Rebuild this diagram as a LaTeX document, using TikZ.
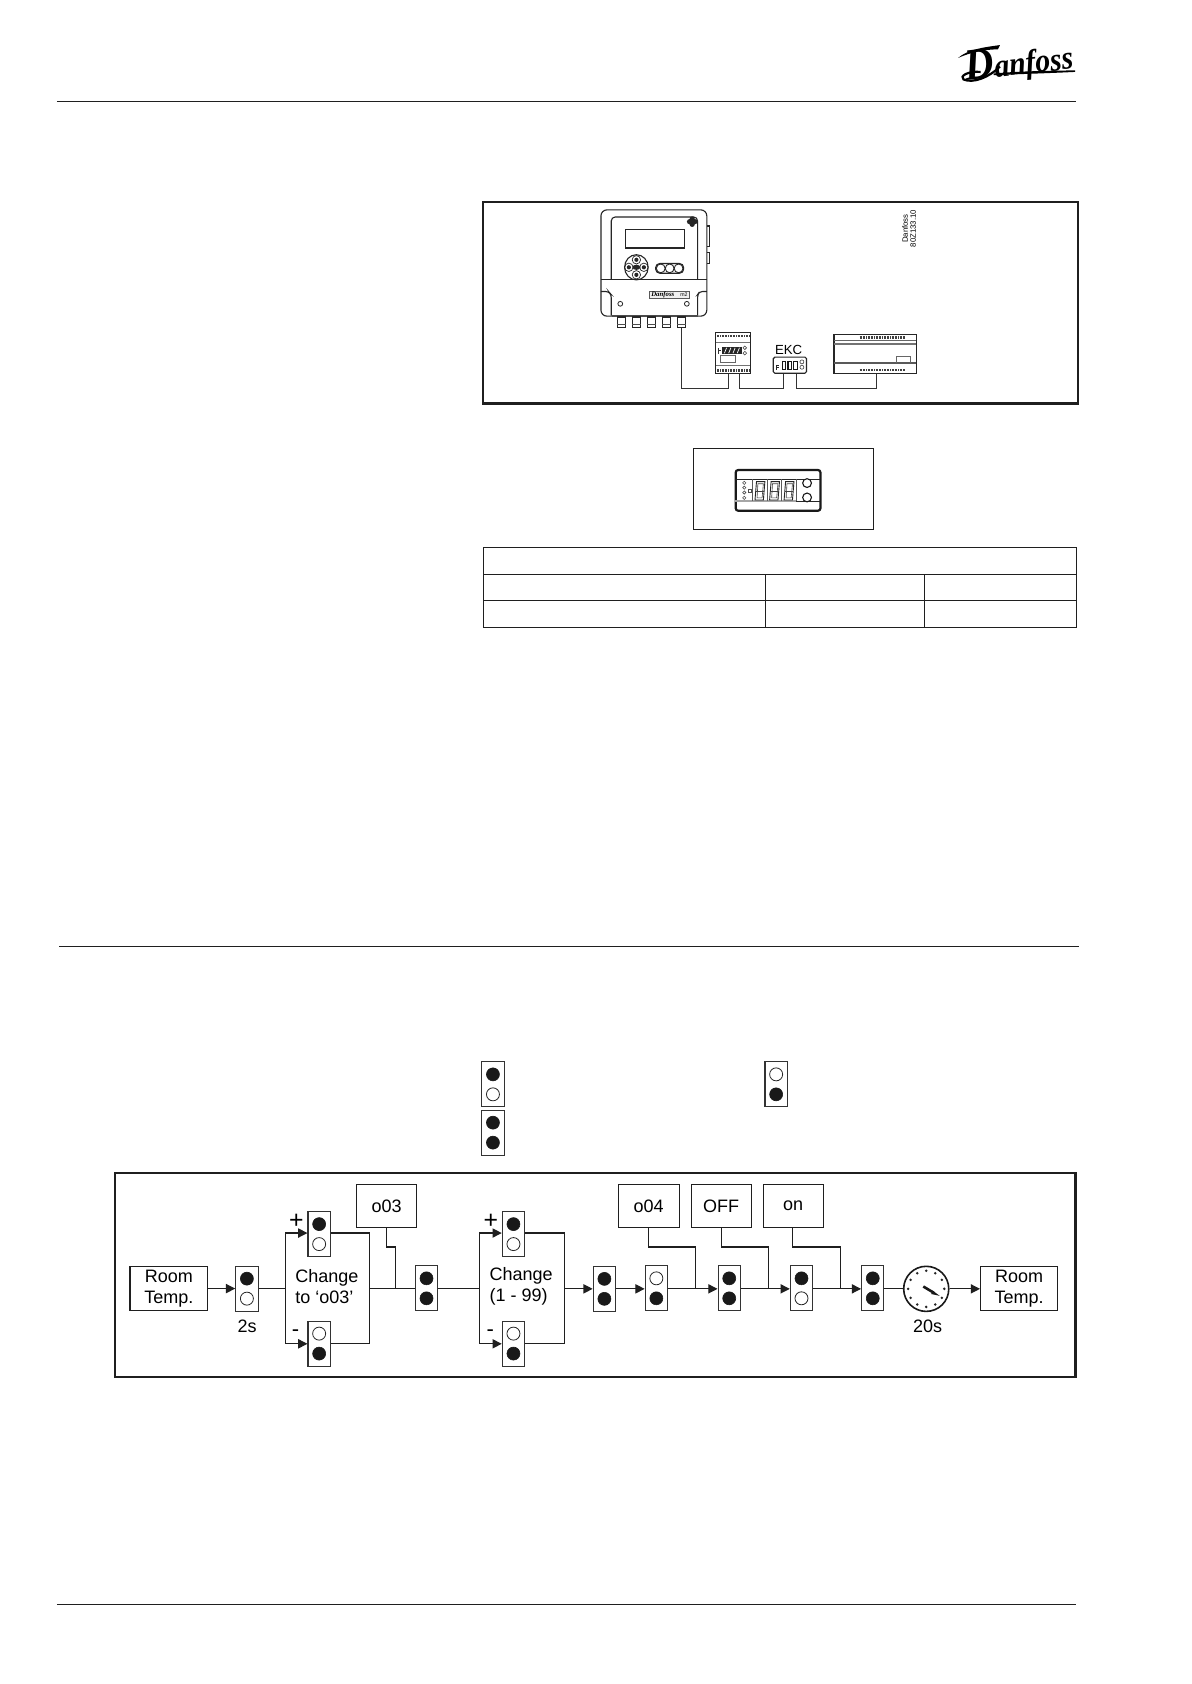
\documentclass[tikz,border=0pt]{standalone}
\usepackage{fontspec}
\setmainfont{Liberation Sans}
\newfontfamily\logofont{Liberation Serif}
\usetikzlibrary{arrows.meta,calc}
\newcommand{\uu}{0.53675pt}
\tikzset{
  thinline/.style={line width=0.5pt,draw=black!88},
  frame/.style={line width=1.15pt,draw=black!88},
  wire/.style={line width=0.5pt,draw=black!80},
  flow/.style={line width=0.55pt,draw=black!88},
  flowarrow/.style={flow,-{Triangle[length=4.6pt,width=4.6pt]}},
  flowbox/.style={draw=black!88,line width=0.55pt,inner sep=0pt,align=center,font=\fontsize{9}{10.4}\selectfont},
  lampbody/.style={draw=black!80,line width=0.55pt,inner sep=0pt,minimum width=20.8*\uu,minimum height=42*\uu},
  lampon/.style={fill=black!90,draw=black!90,line width=0.3pt},
  lampoff/.style={fill=white,draw=black!85,line width=0.4pt},
  flowlabel/.style={inner sep=0pt,font=\fontsize{9}{10.4}\selectfont},
  flowtext/.style={inner sep=0pt,anchor=west,align=left,font=\fontsize{9}{10.4}\selectfont},
  plussign/.style={inner sep=0pt,font=\fontsize{12.4}{12.4}\selectfont},
  minussign/.style={inner sep=0pt,font=\fontsize{11}{11}\selectfont},
  devline/.style={line width=0.55pt,draw=black!85},
  hatchstrip/.style={line width=1.2pt,draw=black!75,dash pattern=on 0.45pt off 0.35pt},
}
% \boxat{name}{x1}{y1}{x2}{y2}{text}
\newcommand{\boxat}[6]{\node[flowbox,minimum width={(#4-#2)*\uu},minimum height={(#5-#3)*\uu}] (#1) at ({(#2+#4)/2},{(#3+#5)/2}) {#6};}
% \lamp{name}{cx}{cy}{top style}{bottom style}
\newcommand{\lamp}[5]{%
  \node[lampbody] (#1) at (#2,#3) {};
  \path[#4] (#2,#3-9.3) circle (3.25pt);
  \path[#5] (#2,#3+9.3) circle (3.25pt);
}
% \sevenseg{cx}{top}{bottom}{halfwidth}
\newcommand{\sevenseg}[4]{%
  \draw[line width=0.45pt,draw=black!85] (#1-#4,#3) -- (#1-#4+1.4,#2) -- (#1+#4+1.4,#2) -- (#1+#4,#3) -- cycle;
  \draw[line width=0.3pt,draw=black!75] (#1-#4+1.9,#3-2) -- (#1-#4+2.7,#2+2) -- (#1+#4,#2+2) -- (#1+#4-1.2,#3-2) -- cycle;
  \draw[line width=0.3pt,draw=black!75] (#1-#4+0.7,{(#2+#3)/2}) -- (#1+#4+0.7,{(#2+#3)/2});
}
\begin{document}
\begin{tikzpicture}[x=\uu,y=-\uu]
\useasboundingbox (0,0) rectangle (1109.5,1568.7);
\fill[white] (0,0) rectangle (1109.5,1568.7);
% page rules
\coordinate (ruleAa) at (53,95);\coordinate (ruleAb) at (1002,95);
\coordinate (ruleBa) at (55,881.5);\coordinate (ruleBb) at (1005,881.5);
\coordinate (ruleCa) at (53,1494.5);\coordinate (ruleCb) at (1002,1494.5);
\draw[thinline] (ruleAa) -- (ruleAb);
\draw[thinline] (ruleBa) -- (ruleBb);
\draw[thinline] (ruleCa) -- (ruleCb);
% logo
\begin{scope}[shift={(1.5,0)}]
\node[inner sep=0pt,rotate=6,yscale=1.12,transform shape,font=\logofont\bfseries\itshape] (logo) at (948,59) {\fontsize{20}{20}\selectfont D\fontsize{14.8}{14.8}\selectfont anfoss};
\fill[black] (891,54) .. controls (900,46) and (915,44) .. (930,42) -- (928,46) .. controls (915,46) and (902,49) .. (891,54) -- cycle;
\fill[black] (924,68.5) .. controls (950,66) and (980,66) .. (1000,65.5) -- (1000,67) .. controls (980,68) and (950,69) .. (924,70) -- cycle;
\draw[line width=1.1pt,draw=black] (930,62) .. controls (920,72) and (905,78) .. (896,74) .. controls (892,71) and (900,66) .. (912,67);
\end{scope}
% top frame
\node[frame,minimum width={554*\uu},minimum height={188*\uu},inner sep=0pt] (topframe) at (727,282) {};
\begin{scope}[shift={(0.8,0.5)}]
% controller device
\draw[devline,rounded corners=3pt] (559,195) rectangle (657.6,294);
\draw[devline,rounded corners=2pt] (568.6,260) -- (568.6,201.6) -- (649,201.6) -- (649,260);
\draw[devline] (559,260) -- (657.6,260);
\draw[devline] (581.5,213) rectangle (637,230.5);
\draw[devline] (657.6,210) -- (660,210) -- (660,229) -- (657.6,229);
\draw[devline] (657.6,235) -- (660,235) -- (660,245) -- (657.6,245);
\fill[black!85] (644,203.5) circle (1.3pt) (644,208.5) circle (1.3pt) (641.5,206) circle (1.3pt) (646.5,206) circle (1.3pt);
% keypad
\draw[devline] (592,248.5) ellipse (5.9pt and 6.3pt);
\foreach \dx/\dy in {0/-7,0/7,-7/0,7/0}{\draw[line width=0.35pt,draw=black!85] (592+\dx,248.5+\dy) circle (2.1pt);\fill[black!85] (592+\dx,248.5+\dy) circle (1.05pt);}
\fill[black!85] (592,248.5) ellipse (2pt and 1.3pt);
% three soft keys
\draw[devline,rounded corners=2pt] (610,245) rectangle (636,254);
\foreach \cx in {614.7,623,631.3}{\draw[line width=0.45pt,draw=black!85] (\cx,249.5) circle (2.2pt);}
% lower housing
\draw[devline,rounded corners=1.5pt] (559,271) -- (566,271) -- (568.6,274) -- (568.6,293.5);
\draw[devline,rounded corners=1.5pt] (657.6,271) -- (651,271) -- (649,274) -- (649,293.5);
\draw[line width=0.9pt,draw=black!70] (569,294) -- (649,294);
\draw[line width=0.4pt,draw=black!85] (577,282.5) circle (1.2pt) (639,282.5) circle (1.2pt);
\node[draw=black!65,line width=0.35pt,fill=black!6,minimum width={37*\uu},minimum height={7*\uu},inner sep=0pt] (badge) at (622.5,274.2) {};
\node[inner sep=0pt,anchor=west,font=\logofont\bfseries\itshape\fontsize{3.4}{3.4}\selectfont] (badgelogo) at (605.5,274.2) {Danfoss};
\node[inner sep=0pt,anchor=east,font=\fontsize{2.6}{2.6}\selectfont] (badgeno) at (640,274.2) {m2};
\foreach \cx/\nm in {578/cA,592/cB,606/cC,620/cD,634/cE}{
  \node[devline,draw,minimum width={8*\uu},minimum height={9.5*\uu},inner sep=0pt] (\nm) at (\cx,299.5) {};
  \draw[line width=0.5pt,draw=black!70] (\cx-4,301.5) -- (\cx+4,301.5);
}
% module A
\node[devline,draw,minimum width={32*\uu},minimum height={38.5*\uu},inner sep=0pt] (modA) at (682,328.3) {};
\draw[hatchstrip] (667,312.4) -- (697,312.4);
\draw[hatchstrip] (667,344.6) -- (697,344.6);
\draw[line width=0.8pt,draw=black!55] (666,318.5) -- (698,318.5);
\draw[line width=0.3pt,draw=black!55] (666,339.4) -- (698,339.4);
\fill[black!85] (672,322.5) rectangle (690,329.5);
\foreach \dx in {675,679,683,687}{\draw[line width=0.35pt,draw=white] (\dx-1,328.5) -- (\dx+1,323.5);}
\draw[line width=0.4pt,draw=black!80] (668.5,323.5) -- (668.5,329) (668.5,326) -- (671,326);
\draw[line width=0.3pt,draw=black!75] (693,323.5) circle (0.9pt) (693,328.5) circle (0.9pt);
\draw[line width=0.3pt,draw=black!60] (670.5,330.8) rectangle (684,337);
% EKC module
\node[inner sep=0pt,font=\fontsize{6.6}{7}\selectfont] (ekclabel) at (733.8,325.5) {EKC};
\node[devline,draw,rounded corners=0.8pt,minimum width={31*\uu},minimum height={15*\uu},inner sep=0pt] (modB) at (735,339.7) {};
\foreach \cx in {729.5,735,740.5}{\draw[line width=0.55pt,draw=black!90] (\cx-1.8,343.5) rectangle (\cx+1.8,336);}
\draw[line width=0.6pt,draw=black!85] (722.5,339.5) -- (722.5,344) (722.5,340) -- (725,340) (722.5,342) -- (725,342);
\draw[line width=0.3pt,draw=black!75] (746.2,336.6) circle (1pt) (746.2,341.6) circle (1pt);
% large module
\node[devline,draw,minimum width={76.5*\uu},minimum height={36.6*\uu},inner sep=0pt] (modC) at (814.3,329) {};
\draw[hatchstrip] (800,313.8) -- (843,313.8);
\draw[hatchstrip] (800,344.3) -- (843,344.3);
\draw[line width=0.3pt,draw=black!60] (776,316.3) -- (852.5,316.3);
\draw[line width=0.6pt,draw=black!55] (776,320) -- (852.5,320);
\draw[line width=1.1pt,draw=black!65] (776,338) -- (852.5,338);
\draw[line width=0.3pt,draw=black!60] (834,337.5) -- (834,331.7) -- (847,331.7) -- (847,337.5);
% wires
\coordinate (wA) at (677.5,361);\coordinate (wB) at (688.5,361);\coordinate (wC) at (729,361);\coordinate (wD) at (741,361);\coordinate (wE) at (816,361);
\draw[wire] (cE.south) |- (wA) -- (wA |- modA.south);
\draw[wire] (wB |- modA.south) -- (wB) -- (wC) -- (wC |- modB.south);
\draw[wire] (wD |- modB.south) -- (wD) -- (wE) -- (wE |- modC.south);
% drawing number
\node[rotate=90,inner sep=0pt,align=center,font=\fontsize{3.9}{4}\selectfont] (drawno) at (846,212.5) {Danfoss\\80Z133.10};
\end{scope}
\begin{scope}[shift={(0.8,0.8)}]
% display panel
\node[thinline,draw,minimum width={168*\uu},minimum height={75*\uu},inner sep=0pt] (disppanel) at (729,454.5) {};
\node[draw=black!90,line width=1.1pt,rounded corners=1.3pt,minimum width={79*\uu},minimum height={38*\uu},inner sep=0pt] (dispbody) at (724,456) {};
\draw[line width=0.4pt,draw=black!85] (683.5,445.8) -- (762.6,445.8);
\draw[line width=0.8pt,draw=black!35] (684,466) -- (741,466);
\draw[line width=0.4pt,draw=black!85] (741,466) -- (762.6,466);
\foreach \vx in {700,713.6,727,741}{\draw[line width=0.25pt,draw=black!65] (\vx,445.8) -- (\vx,466);}
\sevenseg{706.4}{447.8}{465}{3.9}
\sevenseg{720}{447.8}{465}{3.9}
\sevenseg{733.5}{447.8}{465}{3.9}
\foreach \ly in {449,453.5,458,463}{\draw[line width=0.3pt,draw=black!70] (692.5,\ly) circle (0.8pt);}
\draw[line width=0.3pt,draw=black!70] (696.2,455) rectangle (699,457.5);
\draw[line width=0.55pt,draw=black!90,fill=white] (751,449.2) circle (2.2pt) (751,462.6) circle (2.2pt);
% table
\node[thinline,draw,minimum width={552.6*\uu},minimum height={74.4*\uu},inner sep=0pt] (tbl) at (725.9,546.2) {};
\coordinate (tA) at (449.6,534);\coordinate (tB) at (1002.2,534);\coordinate (tC) at (449.6,558.5);\coordinate (tD) at (1002.2,558.5);
\coordinate (tE) at (712.5,534);\coordinate (tF) at (712.5,583.4);\coordinate (tG) at (860.5,534);\coordinate (tH) at (860.5,583.4);
\draw[thinline] (tA) -- (tB) (tC) -- (tD) (tE) -- (tF) (tG) -- (tH);
\end{scope}
\begin{scope}[shift={(0.8,1.6)}]
% legend lamps
\lamp{legA}{458.4}{1008.5}{lampon}{lampoff}
\lamp{legB}{458.4}{1053.5}{lampon}{lampon}
\lamp{legC}{722.2}{1008.5}{lampoff}{lampon}
% flow frame
\node[frame,minimum width={895*\uu},minimum height={190*\uu},inner sep=0pt] (flowframe) at (553.5,1186) {};
\boxat{room1}{120.3}{1178.5}{192.8}{1219}{Room\\Temp.}
\lamp{L1}{229.2}{1198.8}{lampon}{lampoff}
\node[flowlabel] (t2s) at (229.4,1233.5) {2s};
\lamp{Lp1}{296.5}{1148}{lampon}{lampoff}
\lamp{Lm1}{296.5}{1250}{lampoff}{lampon}
\node[plussign] (plus1) at (275.3,1136.5) {+};
\node[minussign] (minus1) at (274.5,1240) {-};
\node[flowtext] (chg1) at (274,1197) {Change\\to ‘o03’};
\lamp{L2}{396.5}{1198.5}{lampon}{lampon}
\boxat{o03}{331.4}{1102}{387.5}{1142}{o03}
\lamp{Lp2}{477.5}{1148}{lampon}{lampoff}
\lamp{Lm2}{477.5}{1250}{lampoff}{lampon}
\node[plussign] (plus2) at (456.5,1136.5) {+};
\node[minussign] (minus2) at (456,1240) {-};
\node[flowtext] (chg2) at (455,1197) {Change\\(1 - 99)};
\lamp{L3}{562.2}{1199}{lampon}{lampon}
\lamp{L4}{610.6}{1198.5}{lampoff}{lampon}
\boxat{o04}{575}{1102}{632}{1142}{o04}
\lamp{L5}{678.5}{1198.5}{lampon}{lampon}
\boxat{off}{643}{1102}{699}{1142}{OFF}
\lamp{L6}{745.8}{1198.5}{lampon}{lampoff}
\boxat{on}{710}{1102}{766}{1142}{on}
\lamp{L7}{812.2}{1198.5}{lampon}{lampon}
% clock
\node[draw=black!90,line width=0.8pt,circle,minimum size={42*\uu},inner sep=0pt] (clock) at (862,1199) {};
\foreach \a in {0,30,...,330}{\fill[black!85] ($(clock.center)+(\a:16.8)$) circle (0.7pt);}
\draw[line width=1.3pt,draw=black!90] (859.3,1196.8) -- (869,1202.6);
\fill[black!90] (868,1200.6) -- (874.5,1205.5) -- (866.6,1203.8) -- cycle;
\node[flowlabel] (t20s) at (863.4,1233.5) {20s};
\boxat{room2}{912.6}{1178.5}{984.6}{1219}{Room\\Temp.}
% flow connectors
\coordinate (brA) at (265.4,1199);\coordinate (brB) at (343.5,1199);
\coordinate (brC) at (445.8,1199);\coordinate (brD) at (525,1199);
\coordinate (yTop) at (0,1147);\coordinate (yBot) at (0,1250.2);
\draw[flowarrow] (room1.east) -- (L1.west |- room1.east);
\draw[flow] (L1.east |- brA) -- (brA);
\draw[flowarrow] (brA |- yBot) -- (brA |- yTop) -- (Lp1.west |- yTop);
\draw[flowarrow] (brA) -- (brA |- yBot) -- (Lm1.west |- yBot);
\draw[flow] (Lp1.east |- yTop) -- (brB |- yTop) -- (brB |- yBot) -- (Lm1.east |- yBot);
\draw[flow] (brB) -- (L2.west |- brB);
\draw[flow] (L2.east |- brC) -- (brC);
\draw[flowarrow] (brC |- yBot) -- (brC |- yTop) -- (Lp2.west |- yTop);
\draw[flowarrow] (brC) -- (brC |- yBot) -- (Lm2.west |- yBot);
\draw[flow] (Lp2.east |- yTop) -- (brD |- yTop) -- (brD |- yBot) -- (Lm2.east |- yBot);
\draw[flowarrow] (brD) -- (L3.west |- brD);
\draw[flowarrow] (L3.east |- brD) -- (L4.west |- brD);
\draw[flowarrow] (L4.east |- brD) -- (L5.west |- brD);
\draw[flowarrow] (L5.east |- brD) -- (L6.west |- brD);
\draw[flowarrow] (L6.east |- brD) -- (L7.west |- brD);
\draw[flow] (L7.east |- brD) -- (clock.west);
\draw[flowarrow] (clock.east) -- (room2.west |- clock.east);
% display-box feeds
\coordinate (fA1) at (359.3,1160);\coordinate (fA2) at (367.7,1160);
\coordinate (fB1) at (603,1160);\coordinate (fB2) at (647,1160);
\coordinate (fC1) at (671,1160);\coordinate (fC2) at (715,1160);
\coordinate (fD1) at (737.8,1160);\coordinate (fD2) at (781.8,1160);
\draw[flow] (o03.south -| fA1) -- (fA1) -- (fA2) -- (fA2 |- brA);
\draw[flow] (o04.south -| fB1) -- (fB1) -- (fB2) -- (fB2 |- brA);
\draw[flow] (off.south -| fC1) -- (fC1) -- (fC2) -- (fC2 |- brA);
\draw[flow] (on.south -| fD1) -- (fD1) -- (fD2) -- (fD2 |- brA);
\end{scope}
\end{tikzpicture}
\end{document}
